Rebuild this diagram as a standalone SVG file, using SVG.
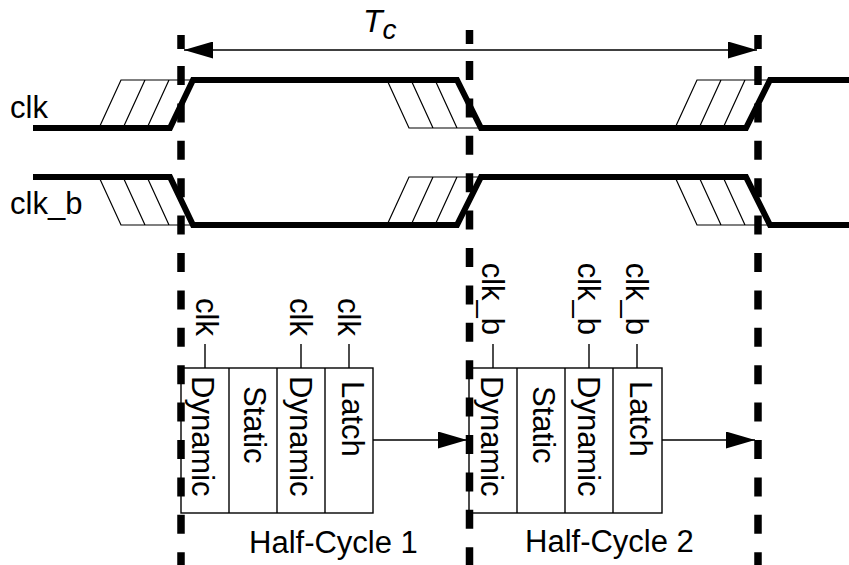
<svg xmlns="http://www.w3.org/2000/svg" width="849" height="565" viewBox="0 0 849 565">
<style>
text{font-family:"Liberation Sans",Arial,sans-serif;fill:#000}
.lbl{font-size:31px}
.blk{font-size:31px}
.wave{fill:none;stroke:#000;stroke-width:6;stroke-linejoin:miter}
.hatch{fill:none;stroke:#000;stroke-width:1.2}
.dash{stroke:#000;stroke-width:7.5;stroke-dasharray:19 18.4}
.thin{fill:none;stroke:#000;stroke-width:1.4}
.box{fill:#fff;stroke:#000;stroke-width:1.4}
</style>
<defs>
<marker id="ah" markerUnits="userSpaceOnUse" viewBox="0 0 29 17" refX="29" refY="8.5" markerWidth="29" markerHeight="17" orient="auto-start-reverse">
<path d="M0,0 L29,8.5 L0,17 Z" fill="#000"/>
</marker>
</defs>
<rect width="849" height="565" fill="#fff"/>

<g id="hatches">
<path class="hatch" d="M99,128 L121,80 L193,80 M123,128 L145,80 M147,128 L169,80"/>
<path class="hatch" d="M99,177 L121,225 L193,225 M123,177 L145,225 M147,177 L169,225"/>
<path class="hatch" d="M387,80 L409,128 L482,128 M411,80 L433,128 M435,80 L457,128"/>
<path class="hatch" d="M387,225 L409,177 L482,177 M411,225 L433,177 M435,225 L457,177"/>
<path class="hatch" d="M675,128 L697,80 L770,80 M699,128 L721,80 M723,128 L745,80"/>
<path class="hatch" d="M675,177 L697,225 L770,225 M699,177 L721,225 M723,177 L745,225"/>
</g>

<g id="clk-wave">
<text class="lbl" x="10" y="118">clk</text>
<polyline class="wave" points="33,128 170,128 193,80 457,80 481,128 746,128 770,80 849,80"/>
</g>
<g id="clkb-wave">
<text class="lbl" x="10" y="214">clk_b</text>
<polyline class="wave" points="33,177 170,177 193,225 457,225 481,177 746,177 770,225 849,225"/>
</g>

<g id="block1">
<rect class="box" x="181" y="368" width="192" height="145"/>
<line class="thin" x1="229" y1="368" x2="229" y2="513"/>
<line class="thin" x1="277" y1="368" x2="277" y2="513"/>
<line class="thin" x1="325" y1="368" x2="325" y2="513"/>
<text class="blk" transform="translate(192,376) rotate(90)">Dynamic</text>
<text class="blk" transform="translate(244,386) rotate(90)">Static</text>
<text class="blk" transform="translate(290,376) rotate(90)">Dynamic</text>
<text class="blk" transform="translate(342,381) rotate(90)">Latch</text>
<line class="thin" x1="205" y1="344" x2="205" y2="368"/>
<line class="thin" x1="301" y1="344" x2="301" y2="368"/>
<line class="thin" x1="349" y1="344" x2="349" y2="368"/>
<text class="lbl" text-anchor="end" transform="translate(196,336) rotate(90)">clk</text>
<text class="lbl" text-anchor="end" transform="translate(290,336) rotate(90)">clk</text>
<text class="lbl" text-anchor="end" transform="translate(338,336) rotate(90)">clk</text>
</g>

<g id="block2">
<rect class="box" x="469" y="368" width="193" height="145"/>
<line class="thin" x1="517" y1="368" x2="517" y2="513"/>
<line class="thin" x1="565" y1="368" x2="565" y2="513"/>
<line class="thin" x1="613" y1="368" x2="613" y2="513"/>
<text class="blk" transform="translate(481,376) rotate(90)">Dynamic</text>
<text class="blk" transform="translate(533,386) rotate(90)">Static</text>
<text class="blk" transform="translate(578,376) rotate(90)">Dynamic</text>
<text class="blk" transform="translate(630,381) rotate(90)">Latch</text>
<line class="thin" x1="493" y1="344" x2="493" y2="368"/>
<line class="thin" x1="589" y1="344" x2="589" y2="368"/>
<line class="thin" x1="637" y1="344" x2="637" y2="368"/>
<text class="lbl" text-anchor="end" transform="translate(482,335) rotate(90)">clk_b</text>
<text class="lbl" text-anchor="end" transform="translate(578,335) rotate(90)">clk_b</text>
<text class="lbl" text-anchor="end" transform="translate(626,335) rotate(90)">clk_b</text>
</g>

<g id="dashed-lines">
<line class="dash" x1="181" y1="35" x2="181" y2="49" style="stroke-dasharray:none"/>
<line class="dash" x1="181" y1="66" x2="181" y2="565"/>
<line class="dash" x1="469.5" y1="30" x2="469.5" y2="44" style="stroke-dasharray:none"/>
<line class="dash" x1="469.5" y1="61" x2="469.5" y2="565"/>
<line class="dash" x1="758" y1="35" x2="758" y2="49" style="stroke-dasharray:none"/>
<line class="dash" x1="758" y1="66" x2="758" y2="565"/>
</g>

<g id="connectors">
<line class="thin" x1="184" y1="50" x2="757" y2="50" marker-start="url(#ah)" marker-end="url(#ah)"/>
<line class="thin" x1="373" y1="440" x2="467" y2="440" marker-end="url(#ah)"/>
<line class="thin" x1="662" y1="440" x2="755" y2="440" marker-end="url(#ah)"/>
</g>

<g id="labels">
<text x="363" y="32" font-size="32" font-style="italic">T<tspan font-size="28" dy="7">c</tspan></text>
<text class="lbl" x="249" y="553">Half-Cycle 1</text>
<text class="lbl" x="525" y="552">Half-Cycle 2</text>
</g>
</svg>
